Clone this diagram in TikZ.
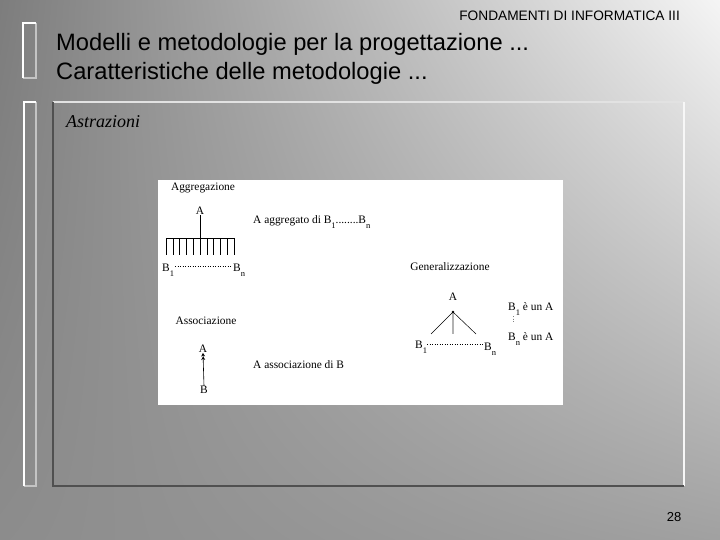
\documentclass[tikz,border=0pt]{standalone}
\usepackage{fontspec}
\setmainfont{Liberation Serif}
\newfontfamily\slidesans{Liberation Sans}
\usetikzlibrary{arrows.meta}
\pgfdeclarefunctionalshading{slidebg}{\pgfpoint{0bp}{0bp}}{\pgfpoint{100bp}{100bp}}{}{
25 sub 50 div exch 25 sub 50 div
dup 0.39 mul -0.06 add
3 -1 roll mul
exch 0.08 mul 0.55 add add
dup dup
}
\newcommand\sbs[1]{\raisebox{-0.45em}{\fontsize{8.5}{8.5}\selectfont #1}}
\definecolor{frdark}{HTML}{505050}
\definecolor{frlight}{HTML}{E2E2E2}
\definecolor{brgray}{HTML}{C4C4C4}
\begin{document}
\begin{tikzpicture}[x=1pt,y=-1pt,
  dtxt/.style={inner sep=0pt,font=\fontsize{11.4}{13}\selectfont},
  title/.style={inner sep=0pt,anchor=base west,font=\slidesans\fontsize{23.7}{26}\selectfont},
  tick/.style={line width=0.6pt},
  dotline/.style={dotted,line width=0.5pt}]
\useasboundingbox (0,0) rectangle (720,540);
\shade[shading=slidebg] (0,0) rectangle (720,540);
% brackets
\draw[brgray,line width=1.2pt] (36,23) -- (36,78) -- (23,78);
\draw[white,line width=1.5pt] (36,23) -- (23,23) -- (23,78);
\draw[brgray,line width=1.2pt] (36,102) -- (36,486) -- (24,486);
\draw[white,line width=1.5pt] (36,102) -- (24,102) -- (24,486);
% content frame
\draw[frlight,line width=1.5pt] (53,102) -- (684,102);
\draw[white!94!gray,line width=2pt] (684,102) -- (684,486);
\draw[frdark,line width=2pt] (53,102) -- (53,486) -- (684,486);
% header texts
\node[inner sep=0pt,anchor=base east,font=\slidesans\fontsize{13.7}{15}\selectfont] (hdr) at (680,21) {FONDAMENTI DI INFORMATICA III};
\node[title] (t1) at (56,51) {Modelli e metodologie per la progettazione ...};
\node[title] (t2) at (56,79.5) {Caratteristiche delle metodologie ...};
\node[inner sep=0pt,anchor=base west,font=\itshape\fontsize{18}{20}\selectfont] (astr) at (66,128) {Astrazioni};
\node[inner sep=0pt,anchor=base,font=\slidesans\fontsize{13}{15}\selectfont] (pg) at (674,521) {28};
% white figure
\fill[white] (158,180) rectangle (563,405);
% Aggregazione
\node[dtxt] (aggt) at (203,188) {Aggregazione};
\node[dtxt] (aggA) at (200,211) {A};
\coordinate (aggJ) at (200,238);
\draw[tick] (aggA.south) -- (aggJ);
\draw[tick] (166,238) -- (234,238);
\foreach \i in {0,...,10} {\draw[tick] (166+6.8*\i,238) -- (166+6.8*\i,255);}
\node[dtxt,anchor=base west] (aggB1) at (162,271) {B\sbs{1}};
\node[dtxt,anchor=base west] (aggBn) at (233,271) {B\sbs{n}};
\draw[dotline] (175,266) -- (231,266);
\node[dtxt,anchor=base west] (aggL) at (253,223) {A aggregato di B\sbs{1}........B\sbs{n}};
% Associazione
\node[dtxt] (asst) at (206,321) {Associazione};
\node[dtxt] (assA) at (203,349) {A};
\node[dtxt] (assB) at (204,390) {B};
\draw[line width=0.6pt,-{Stealth[length=3.5pt,width=4pt]Stealth[length=3.5pt,width=4pt]}] (assB.north) -- (assA.south);
\node[dtxt,anchor=base west] (assL) at (253,368) {A associazione di B};
% Generalizzazione
\node[dtxt] (gent) at (450,267) {Generalizzazione};
\node[dtxt] (genA) at (453,297) {A};
\coordinate (genP) at (453,312);
\coordinate (genL) at (431,334);
\coordinate (genR) at (476,334);
\draw[gray!60,line width=2pt] (genP) -- (453,334);
\draw[line width=0.5pt] (genL) -- (genP) -- (genR);
\fill (genP) circle (1.4);
\node[dtxt,anchor=base west] (genB1) at (415,348) {B\sbs{1}};
\node[dtxt,anchor=base west] (genBn) at (484,350) {B\sbs{n}};
\draw[dotline] (427,344) -- (483,344);
\node[dtxt,anchor=base west] (genL1) at (508,310) {B\sbs{1} è un A};
\draw[dotted,line width=0.5pt,gray] (513,316) -- (513,323);
\node[dtxt,anchor=base west] (genL2) at (508,340) {B\sbs{n} è un A};
\end{tikzpicture}
\end{document}
